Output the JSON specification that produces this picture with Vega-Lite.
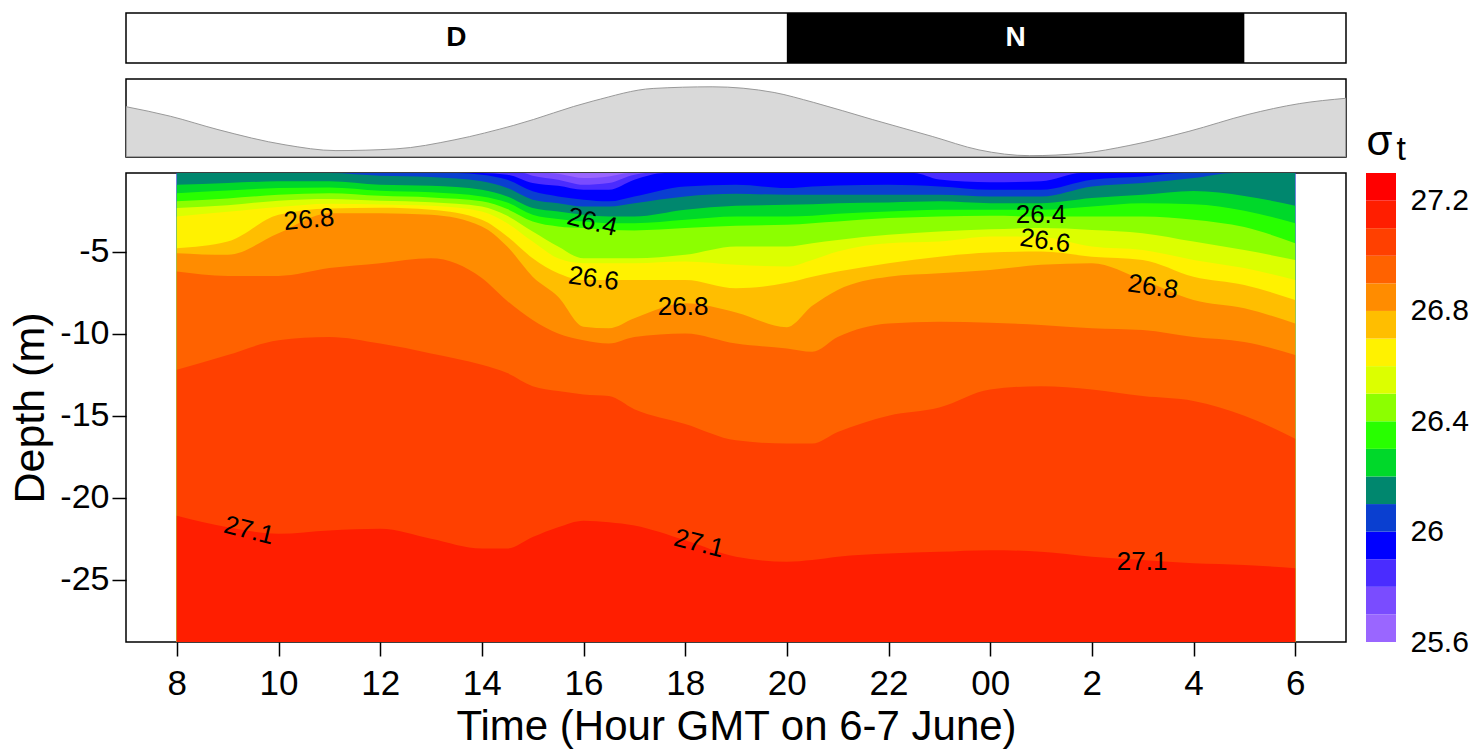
{
  "$schema": "https://vega.github.io/schema/vega-lite/v6.json",
  "padding": {"left": 9, "top": 12, "right": 5, "bottom": 3},
  "background": "white",
  "config": {
    "font": "Liberation Sans",
    "view": {"stroke": "black", "strokeWidth": 1.5},
    "axis": {"grid": false, "domain": false, "tickColor": "black", "tickWidth": 1.5, "labelColor": "black", "titleColor": "black", "titleFontWeight": "normal"}
  },
  "datasets": {
    "tide": [
      {"t":7.0,"h":0.645},{"t":7.87,"h":0.523},{"t":8.81,"h":0.351},{"t":10.13,"h":0.156},{"t":11.13,"h":0.082},{"t":12.31,"h":0.104},{"t":13.47,"h":0.221},{"t":14.63,"h":0.406},{"t":16.19,"h":0.718},{"t":17.37,"h":0.879},{"t":18.53,"h":0.9},{"t":19.75,"h":0.827},{"t":20.52,"h":0.701},{"t":21.68,"h":0.481},{"t":22.86,"h":0.264},{"t":23.78,"h":0.091},{"t":24.78,"h":0.017},{"t":25.81,"h":0.048},{"t":26.73,"h":0.147},{"t":27.91,"h":0.329},{"t":29.07,"h":0.545},{"t":30.08,"h":0.684},{"t":31.0,"h":0.753}
    ],
    "bar": [
      {"L":25.6,"lo":25.6,"hi":25.7},{"L":25.7,"lo":25.7,"hi":25.8},{"L":25.8,"lo":25.8,"hi":25.9},{"L":25.9,"lo":25.9,"hi":26.0},{"L":26.0,"lo":26.0,"hi":26.1},{"L":26.1,"lo":26.1,"hi":26.2},{"L":26.2,"lo":26.2,"hi":26.3},{"L":26.3,"lo":26.3,"hi":26.4},{"L":26.4,"lo":26.4,"hi":26.5},{"L":26.5,"lo":26.5,"hi":26.6},{"L":26.6,"lo":26.6,"hi":26.7},{"L":26.7,"lo":26.7,"hi":26.8},{"L":26.8,"lo":26.8,"hi":26.9},{"L":26.9,"lo":26.9,"hi":27.0},{"L":27.0,"lo":27.0,"hi":27.1},{"L":27.1,"lo":27.1,"hi":27.2},{"L":27.2,"lo":27.2,"hi":27.3}
    ],
    "iso": [
      {"L":25.6,"t":8,"z":-0.2},{"L":25.6,"t":30,"z":-0.2},
      {"L":25.7,"t":8,"z":-0.2},{"L":25.7,"t":15.3,"z":-0.2},{"L":25.7,"t":15.6,"z":-0.3},{"L":25.7,"t":16,"z":-0.51},{"L":25.7,"t":16.5,"z":-0.41},{"L":25.7,"t":16.9,"z":-0.2},{"L":25.7,"t":30,"z":-0.2},
      {"L":25.8,"t":8,"z":-0.2},{"L":25.8,"t":14.8,"z":-0.2},{"L":25.8,"t":15,"z":-0.37},{"L":25.8,"t":15.5,"z":-0.61},{"L":25.8,"t":16,"z":-0.92},{"L":25.8,"t":16.5,"z":-0.81},{"L":25.8,"t":17,"z":-0.3},{"L":25.8,"t":17.3,"z":-0.2},{"L":25.8,"t":30,"z":-0.2},
      {"L":25.9,"t":8,"z":-0.2},{"L":25.9,"t":14,"z":-0.2},{"L":25.9,"t":14.5,"z":-0.3},{"L":25.9,"t":15,"z":-0.81},{"L":25.9,"t":15.5,"z":-0.98},{"L":25.9,"t":16,"z":-1.22},{"L":25.9,"t":16.5,"z":-1.22},{"L":25.9,"t":17,"z":-0.61},{"L":25.9,"t":17.6,"z":-0.2},{"L":25.9,"t":22.5,"z":-0.2},{"L":25.9,"t":23,"z":-0.6},{"L":25.9,"t":24,"z":-0.77},{"L":25.9,"t":25,"z":-0.71},{"L":25.9,"t":25.8,"z":-0.2},{"L":25.9,"t":30,"z":-0.2},
      {"L":26.0,"t":8,"z":-0.2},{"L":26.0,"t":13.5,"z":-0.2},{"L":26.0,"t":14,"z":-0.3},{"L":26.0,"t":14.5,"z":-0.61},{"L":26.0,"t":15,"z":-1.32},{"L":26.0,"t":15.5,"z":-1.63},{"L":26.0,"t":16,"z":-1.83},{"L":26.0,"t":16.5,"z":-1.93},{"L":26.0,"t":17,"z":-1.63},{"L":26.0,"t":18,"z":-1.02},{"L":26.0,"t":19,"z":-0.92},{"L":26.0,"t":20,"z":-1.12},{"L":26.0,"t":20.5,"z":-1.02},{"L":26.0,"t":21,"z":-0.96},{"L":26.0,"t":22,"z":-0.92},{"L":26.0,"t":23,"z":-1.02},{"L":26.0,"t":24,"z":-1.22},{"L":26.0,"t":25,"z":-1.22},{"L":26.0,"t":26,"z":-0.61},{"L":26.0,"t":27,"z":-0.41},{"L":26.0,"t":27.8,"z":-0.2},{"L":26.0,"t":30,"z":-0.2},
      {"L":26.1,"t":8,"z":-0.2},{"L":26.1,"t":11,"z":-0.2},{"L":26.1,"t":12,"z":-0.37},{"L":26.1,"t":13,"z":-0.45},{"L":26.1,"t":14,"z":-0.71},{"L":26.1,"t":14.5,"z":-1.12},{"L":26.1,"t":15,"z":-1.83},{"L":26.1,"t":15.5,"z":-2.04},{"L":26.1,"t":16,"z":-2.24},{"L":26.1,"t":16.5,"z":-2.24},{"L":26.1,"t":17,"z":-2.04},{"L":26.1,"t":18,"z":-1.63},{"L":26.1,"t":19,"z":-1.47},{"L":26.1,"t":20,"z":-1.53},{"L":26.1,"t":20.5,"z":-1.53},{"L":26.1,"t":21,"z":-1.53},{"L":26.1,"t":22,"z":-1.53},{"L":26.1,"t":23,"z":-1.53},{"L":26.1,"t":24,"z":-1.63},{"L":26.1,"t":25,"z":-1.63},{"L":26.1,"t":26,"z":-1.02},{"L":26.1,"t":27,"z":-0.81},{"L":26.1,"t":28,"z":-0.51},{"L":26.1,"t":28.8,"z":-0.2},{"L":26.1,"t":30,"z":-0.2},
      {"L":26.2,"t":8,"z":-0.92},{"L":26.2,"t":9,"z":-0.81},{"L":26.2,"t":10,"z":-0.71},{"L":26.2,"t":11,"z":-0.71},{"L":26.2,"t":12,"z":-0.92},{"L":26.2,"t":13,"z":-0.98},{"L":26.2,"t":14,"z":-1.22},{"L":26.2,"t":14.5,"z":-1.63},{"L":26.2,"t":15,"z":-2.34},{"L":26.2,"t":15.5,"z":-2.55},{"L":26.2,"t":16,"z":-2.75},{"L":26.2,"t":16.5,"z":-2.85},{"L":26.2,"t":17,"z":-2.85},{"L":26.2,"t":18,"z":-2.44},{"L":26.2,"t":19,"z":-2.2},{"L":26.2,"t":20,"z":-2.14},{"L":26.2,"t":20.5,"z":-2.1},{"L":26.2,"t":21,"z":-2.04},{"L":26.2,"t":22,"z":-2.0},{"L":26.2,"t":23,"z":-1.93},{"L":26.2,"t":24,"z":-2.04},{"L":26.2,"t":25,"z":-2.04},{"L":26.2,"t":26,"z":-1.73},{"L":26.2,"t":27,"z":-1.53},{"L":26.2,"t":28,"z":-1.3},{"L":26.2,"t":29,"z":-1.6},{"L":26.2,"t":30,"z":-2.2},
      {"L":26.3,"t":8,"z":-1.43},{"L":26.3,"t":9,"z":-1.26},{"L":26.3,"t":10,"z":-1.12},{"L":26.3,"t":11,"z":-1.08},{"L":26.3,"t":12,"z":-1.28},{"L":26.3,"t":13,"z":-1.38},{"L":26.3,"t":14,"z":-1.63},{"L":26.3,"t":14.5,"z":-2.0},{"L":26.3,"t":15,"z":-2.75},{"L":26.3,"t":15.5,"z":-3.01},{"L":26.3,"t":16,"z":-3.16},{"L":26.3,"t":16.5,"z":-3.26},{"L":26.3,"t":17,"z":-3.26},{"L":26.3,"t":18,"z":-3.05},{"L":26.3,"t":19,"z":-2.85},{"L":26.3,"t":20,"z":-2.85},{"L":26.3,"t":20.5,"z":-2.81},{"L":26.3,"t":21,"z":-2.69},{"L":26.3,"t":22,"z":-2.55},{"L":26.3,"t":23,"z":-2.44},{"L":26.3,"t":24,"z":-2.44},{"L":26.3,"t":25,"z":-2.44},{"L":26.3,"t":26,"z":-2.24},{"L":26.3,"t":27,"z":-2.04},{"L":26.3,"t":28,"z":-2.1},{"L":26.3,"t":29,"z":-2.5},{"L":26.3,"t":30,"z":-3.26},
      {"L":26.4,"t":8,"z":-1.93},{"L":26.4,"t":9,"z":-1.75},{"L":26.4,"t":10,"z":-1.53},{"L":26.4,"t":11,"z":-1.43},{"L":26.4,"t":12,"z":-1.59},{"L":26.4,"t":13,"z":-1.69},{"L":26.4,"t":14,"z":-1.93},{"L":26.4,"t":14.5,"z":-2.4},{"L":26.4,"t":15,"z":-3.16},{"L":26.4,"t":15.5,"z":-3.46},{"L":26.4,"t":16,"z":-3.56},{"L":26.4,"t":16.5,"z":-3.67},{"L":26.4,"t":17,"z":-3.7},{"L":26.4,"t":18,"z":-3.56},{"L":26.4,"t":19,"z":-3.42},{"L":26.4,"t":20,"z":-3.36},{"L":26.4,"t":20.5,"z":-3.26},{"L":26.4,"t":21,"z":-3.16},{"L":26.4,"t":22,"z":-2.95},{"L":26.4,"t":23,"z":-2.85},{"L":26.4,"t":24,"z":-2.81},{"L":26.4,"t":25,"z":-2.85},{"L":26.4,"t":26,"z":-2.85},{"L":26.4,"t":27,"z":-2.85},{"L":26.4,"t":28,"z":-3.05},{"L":26.4,"t":29,"z":-3.5},{"L":26.4,"t":30,"z":-4.48},
      {"L":26.5,"t":8,"z":-2.34},{"L":26.5,"t":9,"z":-2.16},{"L":26.5,"t":10,"z":-1.89},{"L":26.5,"t":11,"z":-1.79},{"L":26.5,"t":12,"z":-1.89},{"L":26.5,"t":13,"z":-1.98},{"L":26.5,"t":14,"z":-2.24},{"L":26.5,"t":14.5,"z":-2.81},{"L":26.5,"t":15,"z":-3.77},{"L":26.5,"t":15.5,"z":-4.68},{"L":26.5,"t":16,"z":-5.4},{"L":26.5,"t":16.5,"z":-5.4},{"L":26.5,"t":17,"z":-5.4},{"L":26.5,"t":18,"z":-5.19},{"L":26.5,"t":19,"z":-4.68},{"L":26.5,"t":20,"z":-4.68},{"L":26.5,"t":20.5,"z":-4.48},{"L":26.5,"t":21,"z":-4.28},{"L":26.5,"t":22,"z":-3.97},{"L":26.5,"t":23,"z":-3.77},{"L":26.5,"t":24,"z":-3.63},{"L":26.5,"t":25,"z":-3.56},{"L":26.5,"t":26,"z":-3.67},{"L":26.5,"t":27,"z":-3.87},{"L":26.5,"t":28,"z":-4.38},{"L":26.5,"t":29,"z":-4.9},{"L":26.5,"t":30,"z":-5.5},
      {"L":26.6,"t":8,"z":-2.85},{"L":26.6,"t":9,"z":-2.57},{"L":26.6,"t":10,"z":-2.28},{"L":26.6,"t":11,"z":-2.08},{"L":26.6,"t":12,"z":-2.12},{"L":26.6,"t":13,"z":-2.2},{"L":26.6,"t":14,"z":-2.55},{"L":26.6,"t":14.5,"z":-3.26},{"L":26.6,"t":15,"z":-4.38},{"L":26.6,"t":15.5,"z":-5.4},{"L":26.6,"t":16,"z":-5.7},{"L":26.6,"t":16.5,"z":-5.7},{"L":26.6,"t":17,"z":-5.7},{"L":26.6,"t":18,"z":-5.6},{"L":26.6,"t":19,"z":-5.8},{"L":26.6,"t":20,"z":-5.9},{"L":26.6,"t":20.5,"z":-5.5},{"L":26.6,"t":21,"z":-4.99},{"L":26.6,"t":22,"z":-4.48},{"L":26.6,"t":23,"z":-4.38},{"L":26.6,"t":24,"z":-4.07},{"L":26.6,"t":25,"z":-4.1},{"L":26.6,"t":26,"z":-4.68},{"L":26.6,"t":27,"z":-4.89},{"L":26.6,"t":28,"z":-5.5},{"L":26.6,"t":29,"z":-6.0},{"L":26.6,"t":30,"z":-6.72},
      {"L":26.7,"t":8,"z":-4.79},{"L":26.7,"t":9,"z":-4.38},{"L":26.7,"t":10,"z":-2.75},{"L":26.7,"t":11,"z":-2.36},{"L":26.7,"t":12,"z":-2.32},{"L":26.7,"t":13,"z":-2.44},{"L":26.7,"t":14,"z":-3.05},{"L":26.7,"t":14.5,"z":-4.07},{"L":26.7,"t":15,"z":-5.4},{"L":26.7,"t":15.5,"z":-6.31},{"L":26.7,"t":16,"z":-6.72},{"L":26.7,"t":16.5,"z":-6.72},{"L":26.7,"t":17,"z":-6.72},{"L":26.7,"t":18,"z":-6.72},{"L":26.7,"t":19,"z":-7.23},{"L":26.7,"t":20,"z":-6.9},{"L":26.7,"t":20.5,"z":-6.52},{"L":26.7,"t":21,"z":-6.21},{"L":26.7,"t":22,"z":-5.7},{"L":26.7,"t":23,"z":-5.3},{"L":26.7,"t":24,"z":-5.05},{"L":26.7,"t":25,"z":-4.99},{"L":26.7,"t":26,"z":-5.3},{"L":26.7,"t":27,"z":-5.5},{"L":26.7,"t":28,"z":-6.52},{"L":26.7,"t":29,"z":-7.03},{"L":26.7,"t":30,"z":-7.94},
      {"L":26.8,"t":8,"z":-5.09},{"L":26.8,"t":9,"z":-5.19},{"L":26.8,"t":10,"z":-3.87},{"L":26.8,"t":11,"z":-2.65},{"L":26.8,"t":12,"z":-2.65},{"L":26.8,"t":13,"z":-2.75},{"L":26.8,"t":14,"z":-3.46},{"L":26.8,"t":14.5,"z":-4.68},{"L":26.8,"t":15,"z":-6.52},{"L":26.8,"t":15.5,"z":-7.74},{"L":26.8,"t":16,"z":-9.57},{"L":26.8,"t":16.5,"z":-9.67},{"L":26.8,"t":17,"z":-9.06},{"L":26.8,"t":18,"z":-8.15},{"L":26.8,"t":19,"z":-8.7},{"L":26.8,"t":20,"z":-9.6},{"L":26.8,"t":20.5,"z":-8.3},{"L":26.8,"t":21,"z":-7.33},{"L":26.8,"t":22,"z":-6.52},{"L":26.8,"t":23,"z":-6.31},{"L":26.8,"t":24,"z":-6.11},{"L":26.8,"t":25,"z":-5.8},{"L":26.8,"t":26,"z":-5.7},{"L":26.8,"t":27,"z":-6.72},{"L":26.8,"t":28,"z":-7.94},{"L":26.8,"t":29,"z":-8.45},{"L":26.8,"t":30,"z":-9.37},
      {"L":26.9,"t":8,"z":-6.21},{"L":26.9,"t":9,"z":-6.48},{"L":26.9,"t":10,"z":-6.48},{"L":26.9,"t":11,"z":-6.0},{"L":26.9,"t":12,"z":-5.7},{"L":26.9,"t":13,"z":-5.4},{"L":26.9,"t":14,"z":-6.6},{"L":26.9,"t":14.5,"z":-8.0},{"L":26.9,"t":15,"z":-9.16},{"L":26.9,"t":15.5,"z":-9.98},{"L":26.9,"t":16,"z":-10.4},{"L":26.9,"t":16.5,"z":-10.6},{"L":26.9,"t":17,"z":-10.2},{"L":26.9,"t":18,"z":-9.98},{"L":26.9,"t":19,"z":-10.6},{"L":26.9,"t":20,"z":-10.9},{"L":26.9,"t":20.5,"z":-11.1},{"L":26.9,"t":21,"z":-10.2},{"L":26.9,"t":22,"z":-9.37},{"L":26.9,"t":23,"z":-9.27},{"L":26.9,"t":24,"z":-9.33},{"L":26.9,"t":25,"z":-9.47},{"L":26.9,"t":26,"z":-9.67},{"L":26.9,"t":27,"z":-9.78},{"L":26.9,"t":28,"z":-10.2},{"L":26.9,"t":29,"z":-10.5},{"L":26.9,"t":30,"z":-11.3},
      {"L":27.0,"t":8,"z":-12.2},{"L":27.0,"t":9,"z":-11.3},{"L":27.0,"t":10,"z":-10.4},{"L":27.0,"t":11,"z":-10.2},{"L":27.0,"t":12,"z":-10.6},{"L":27.0,"t":13,"z":-11.2},{"L":27.0,"t":14,"z":-11.9},{"L":27.0,"t":14.5,"z":-12.4},{"L":27.0,"t":15,"z":-13.2},{"L":27.0,"t":15.5,"z":-13.5},{"L":27.0,"t":16,"z":-13.7},{"L":27.0,"t":16.5,"z":-13.8},{"L":27.0,"t":17,"z":-14.6},{"L":27.0,"t":18,"z":-15.5},{"L":27.0,"t":19,"z":-16.5},{"L":27.0,"t":20,"z":-16.7},{"L":27.0,"t":20.5,"z":-16.7},{"L":27.0,"t":21,"z":-16.0},{"L":27.0,"t":22,"z":-15.0},{"L":27.0,"t":23,"z":-14.5},{"L":27.0,"t":24,"z":-13.4},{"L":27.0,"t":25,"z":-13.2},{"L":27.0,"t":26,"z":-13.4},{"L":27.0,"t":27,"z":-13.8},{"L":27.0,"t":28,"z":-14.1},{"L":27.0,"t":29,"z":-15.0},{"L":27.0,"t":30,"z":-16.4},
      {"L":27.1,"t":8,"z":-21.1},{"L":27.1,"t":9,"z":-21.8},{"L":27.1,"t":10,"z":-22.2},{"L":27.1,"t":11,"z":-22.0},{"L":27.1,"t":12,"z":-21.9},{"L":27.1,"t":13,"z":-22.5},{"L":27.1,"t":14,"z":-23.1},{"L":27.1,"t":14.5,"z":-23.1},{"L":27.1,"t":15,"z":-22.4},{"L":27.1,"t":15.5,"z":-21.8},{"L":27.1,"t":16,"z":-21.4},{"L":27.1,"t":16.5,"z":-21.5},{"L":27.1,"t":17,"z":-21.7},{"L":27.1,"t":18,"z":-22.6},{"L":27.1,"t":19,"z":-23.6},{"L":27.1,"t":20,"z":-23.9},{"L":27.1,"t":20.5,"z":-23.8},{"L":27.1,"t":21,"z":-23.6},{"L":27.1,"t":22,"z":-23.4},{"L":27.1,"t":23,"z":-23.3},{"L":27.1,"t":24,"z":-23.2},{"L":27.1,"t":25,"z":-23.3},{"L":27.1,"t":26,"z":-23.6},{"L":27.1,"t":27,"z":-23.8},{"L":27.1,"t":28,"z":-24.0},{"L":27.1,"t":29,"z":-24.1},{"L":27.1,"t":30,"z":-24.3}
    ]
  },
  "spacing": 16,
  "bounds": "flush",
  "vconcat": [
    {
      "width": 1220,
      "height": 50,
      "layer": [
        {
          "data": {"values": [{"p": "N", "s": 20, "e": 29}]},
          "mark": {"type": "rect", "color": "black"},
          "encoding": {
            "x": {"field": "s", "type": "quantitative", "scale": {"domain": [7, 31], "nice": false, "zero": false}, "axis": null},
            "x2": {"field": "e"},
            "y": {"datum": 0, "type": "quantitative", "scale": {"domain": [0, 1], "nice": false}, "axis": null},
            "y2": {"datum": 1}
          }
        },
        {
          "data": {"values": [{"p": "D", "m": 13.5}, {"p": "N", "m": 24.5}]},
          "mark": {"type": "text", "fontSize": 28, "fontWeight": "bold", "baseline": "middle", "align": "center"},
          "encoding": {
            "x": {"field": "m", "type": "quantitative", "axis": null},
            "y": {"datum": 0.5, "type": "quantitative", "axis": null},
            "text": {"field": "p"},
            "color": {"condition": {"test": "datum.p == 'N'", "value": "white"}, "value": "black"}
          }
        }
      ]
    },
    {
      "width": 1220,
      "height": 78,
      "data": {"name": "tide"},
      "mark": {"type": "area", "color": "#c9c9c9", "interpolate": "monotone", "line": {"color": "#999999", "strokeWidth": 1}},
      "encoding": {
        "x": {"field": "t", "type": "quantitative", "scale": {"domain": [7, 31], "nice": false, "zero": false}, "axis": null},
        "y": {"field": "h", "type": "quantitative", "scale": {"domain": [0, 1], "nice": false}, "axis": null}
      }
    },
    {
      "spacing": 20,
      "bounds": "flush",
      "hconcat": [
        {
          "width": 1220,
          "height": 469,
          "layer": [
            {
              "data": {"name": "iso"},
              "mark": {"type": "area", "interpolate": "monotone", "clip": true},
              "encoding": {
                "x": {"field": "t", "type": "quantitative", "scale": {"domain": [7, 31], "nice": false, "zero": false},
                  "axis": {"values": [8, 10, 12, 14, 16, 18, 20, 22, 24, 26, 28, 30],
                    "labelExpr": "datum.value < 24 ? '' + datum.value : (datum.value == 24 ? '00' : '' + (datum.value - 24))",
                    "title": "Time (Hour GMT on 6-7 June)", "titleFontSize": 42, "labelFontSize": 35, "tickSize": 14, "labelPadding": 10, "titlePadding": 5, "labelFlush": false}},
                "y": {"field": "z", "type": "quantitative", "stack": null, "scale": {"domain": [-28.8, -0.2], "nice": false, "zero": false},
                  "axis": {"values": [-5, -10, -15, -20, -25], "labelExpr": "'' + datum.value", "title": "Depth (m)", "titleFontSize": 43, "labelFontSize": 34, "tickSize": 14, "labelPadding": 3, "titlePadding": 7}},
                "y2": {"datum": -28.8},
                "color": {"field": "L", "type": "ordinal", "legend": null,
                  "scale": {"domain": [25.6,25.7,25.8,25.9,26.0,26.1,26.2,26.3,26.4,26.5,26.6,26.7,26.8,26.9,27.0,27.1,27.2],
                    "range": ["#9a66ff","#7a4cff","#4a2cff","#0000ff","#0a3fd0","#00876e","#00d82a","#28ff00","#8cff00","#dcff00","#fff200","#ffbe00","#ff8c00","#ff6200","#ff4000","#ff1e00","#ff0000"]}}
              }
            },
            {
              "data": {"values": [{"t": 17.96, "z": -8.4, "s": "26.8"}, {"t": 25.0, "z": -2.75, "s": "26.4"}, {"t": 26.99, "z": -23.95, "s": "27.1"}]},
              "mark": {"type": "text", "fontSize": 26, "color": "black", "baseline": "middle", "align": "center"},
              "encoding": {"x": {"field": "t", "type": "quantitative"}, "y": {"field": "z", "type": "quantitative"}, "text": {"field": "s"}}
            },
            {
              "data": {"values": [{"t": 10.6, "z": -3.05, "s": "26.8"}]},
              "mark": {"type": "text", "fontSize": 26, "color": "black", "baseline": "middle", "align": "center", "angle": 355},
              "encoding": {"x": {"field": "t", "type": "quantitative"}, "y": {"field": "z", "type": "quantitative"}, "text": {"field": "s"}}
            },
            {
              "data": {"values": [{"t": 16.2, "z": -6.65, "s": "26.6"}, {"t": 25.08, "z": -4.35, "s": "26.6"}, {"t": 27.2, "z": -7.15, "s": "26.8"}]},
              "mark": {"type": "text", "fontSize": 26, "color": "black", "baseline": "middle", "align": "center", "angle": 8},
              "encoding": {"x": {"field": "t", "type": "quantitative"}, "y": {"field": "z", "type": "quantitative"}, "text": {"field": "s"}}
            },
            {
              "data": {"values": [{"t": 16.17, "z": -3.2, "s": "26.4"}, {"t": 9.42, "z": -22.0, "s": "27.1"}, {"t": 18.27, "z": -22.8, "s": "27.1"}]},
              "mark": {"type": "text", "fontSize": 26, "color": "black", "baseline": "middle", "align": "center", "angle": 14},
              "encoding": {"x": {"field": "t", "type": "quantitative"}, "y": {"field": "z", "type": "quantitative"}, "text": {"field": "s"}}
            }
          ]
        },
        {
          "width": 30,
          "height": 469,
          "view": {"stroke": null},
          "data": {"name": "bar"},
          "mark": {"type": "rect"},
          "encoding": {
            "x": {"datum": 0, "type": "quantitative", "scale": {"domain": [0, 1], "nice": false, "zero": false},
              "axis": {"orient": "top", "labels": false, "ticks": false, "domain": false, "title": "σ", "titleFontSize": 42, "titleAngle": 0, "titleX": 0, "titleY": -19, "titleAlign": "left", "titleBaseline": "alphabetic"}},
            "x2": {"datum": 1},
            "y": {"field": "lo", "type": "quantitative", "scale": {"domain": [25.6, 27.3], "nice": false, "zero": false},
              "axis": {"orient": "right", "values": [25.6, 26, 26.4, 26.8, 27.2], "format": ".1~f", "ticks": false, "labelFontSize": 30, "labelPadding": 14,
                "title": "t", "titleAngle": 0, "titleX": 0, "titleY": -14, "titleAlign": "left", "titleBaseline": "alphabetic", "titleFontSize": 34}},
            "y2": {"field": "hi"},
            "color": {"field": "L", "type": "ordinal", "legend": null,
              "scale": {"domain": [25.6,25.7,25.8,25.9,26.0,26.1,26.2,26.3,26.4,26.5,26.6,26.7,26.8,26.9,27.0,27.1,27.2],
                "range": ["#9a66ff","#7a4cff","#4a2cff","#0000ff","#0a3fd0","#00876e","#00d82a","#28ff00","#8cff00","#dcff00","#fff200","#ffbe00","#ff8c00","#ff6200","#ff4000","#ff1e00","#ff0000"]}}
          }
        }
      ]
    }
  ]
}
